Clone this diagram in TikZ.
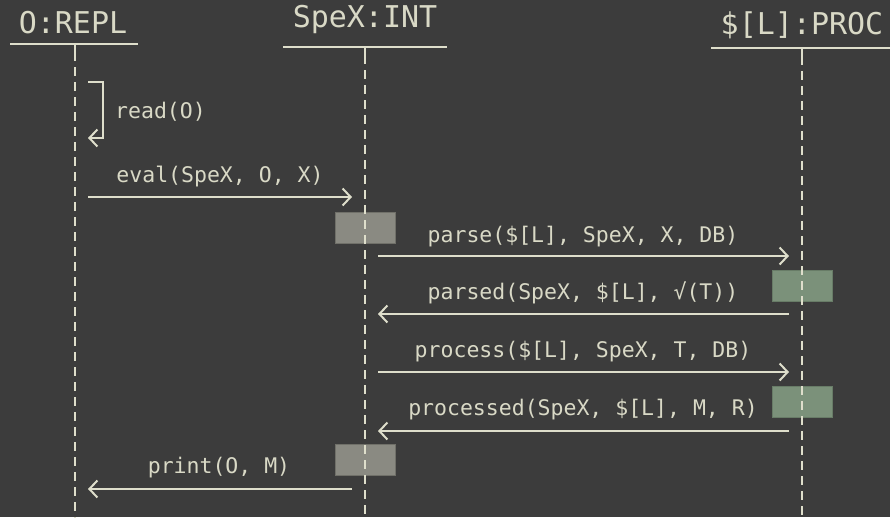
\documentclass[tikz,border=0pt]{standalone}
\usepackage{fontspec}
\setmonofont{DejaVu Sans Mono}
\usetikzlibrary{arrows.meta}
\definecolor{bgc}{HTML}{3C3C3C}
\definecolor{inkc}{HTML}{DEDECB}
\definecolor{txtc}{HTML}{D9D9C6}
\definecolor{grayfill}{HTML}{8A8A82}
\definecolor{grayedge}{HTML}{707069}
\definecolor{greenfill}{HTML}{7B917A}
\definecolor{greenedge}{HTML}{687C67}
\tikzset{
  hdr/.style={inner sep=0pt, text=txtc, font=\fontsize{30}{32}\selectfont\ttfamily, anchor=base},
  lbl/.style={inner sep=0pt, text=txtc, font=\fontsize{21.5}{24}\selectfont\ttfamily, anchor=base},
  hline/.style={draw=inkc, line width=2pt},
  lifeline/.style={draw=inkc, line width=2pt, dash pattern=on 9pt off 6pt},
  msgarrow/.style={draw=inkc, line width=2pt, -{Straight Barb[length=8pt,width=17pt,line width=2pt]}},
  grayact/.style={draw=grayedge, fill=grayfill, line width=1pt, minimum width=60pt, minimum height=31pt, inner sep=0pt},
  greenact/.style={draw=greenedge, fill=greenfill, line width=1pt, minimum width=60pt, minimum height=31pt, inner sep=0pt}
}
\begin{document}
\begin{tikzpicture}[x=1pt,y=-1pt]
\fill[bgc] (0,0) rectangle (890,517);
\useasboundingbox (0,0) rectangle (890,517);

% headers
\node[hdr] (hO) at (73,33) {O:REPL};
\node[hdr] (hS) at (365,27) {SpeX:INT};
\node[hdr] (hP) at (802,34) {\$[L]:PROC};

\coordinate (uOl) at (10,44);  \coordinate (uOr) at (138,44);
\coordinate (uSl) at (283,47); \coordinate (uSr) at (447,47);
\coordinate (uPl) at (711,48); \coordinate (uPr) at (895,48);
\draw[hline] (uOl) -- (uOr);
\draw[hline] (uSl) -- (uSr);
\draw[hline] (uPl) -- (uPr);

% activation boxes
\node[grayact]  (aS1) at (365,227.5) {};
\node[greenact] (aP1) at (802,285.5) {};
\node[greenact] (aP2) at (802,401.5) {};
\node[grayact]  (aS2) at (365,459.5) {};

% lifelines
\coordinate (lOt) at (75,44);  \coordinate (lOm) at (75,52);  \coordinate (lOb) at (75,520);
\coordinate (lSt) at (365,47); \coordinate (lSm) at (365,55); \coordinate (lSb) at (365,520);
\coordinate (lPt) at (802,48); \coordinate (lPm) at (802,56); \coordinate (lPb) at (802,520);
\draw[hline] (lOt) -- (lOm);
\draw[hline] (lSt) -- (lSm);
\draw[hline] (lPt) -- (lPm);
\draw[lifeline] (lOm) -- (lOb);
\draw[lifeline] (lSm) -- (lSb);
\draw[lifeline] (lPm) -- (lPb);

% read self message
\coordinate (rs) at (88,82);
\coordinate (rc) at (103,82);
\coordinate (re) at (88,138);
\draw[msgarrow] (rs) -- (rc) |- (re);
\node[lbl, anchor=base west] (lread) at (115,118) {read(O)};

% eval
\coordinate (es) at (88,197); \coordinate (ee) at (352,197);
\draw[msgarrow] (es) -- (ee);
\node[lbl] (leval) at (220,182) {eval(SpeX, O, X)};

% parse
\coordinate (ps) at (378,256); \coordinate (pe) at (789,256);
\draw[msgarrow] (ps) -- (pe);
\node[lbl] (lparse) at (583,242) {parse(\$[L], SpeX, X, DB)};

% parsed
\coordinate (qs) at (789,314); \coordinate (qe) at (378,314);
\draw[msgarrow] (qs) -- (qe);
\node[lbl] (lparsed) at (583,299) {parsed(SpeX, \$[L], √(T))};

% process
\coordinate (ss) at (378,372); \coordinate (se) at (789,372);
\draw[msgarrow] (ss) -- (se);
\node[lbl] (lprocess) at (583,357) {process(\$[L], SpeX, T, DB)};

% processed
\coordinate (ts) at (789,431); \coordinate (te) at (378,431);
\draw[msgarrow] (ts) -- (te);
\node[lbl] (lprocessed) at (583,415) {processed(SpeX, \$[L], M, R)};

% print
\coordinate (ws) at (352,489); \coordinate (we) at (88,489);
\draw[msgarrow] (ws) -- (we);
\node[lbl] (lprint) at (219,473) {print(O, M)};
\end{tikzpicture}
\end{document}
